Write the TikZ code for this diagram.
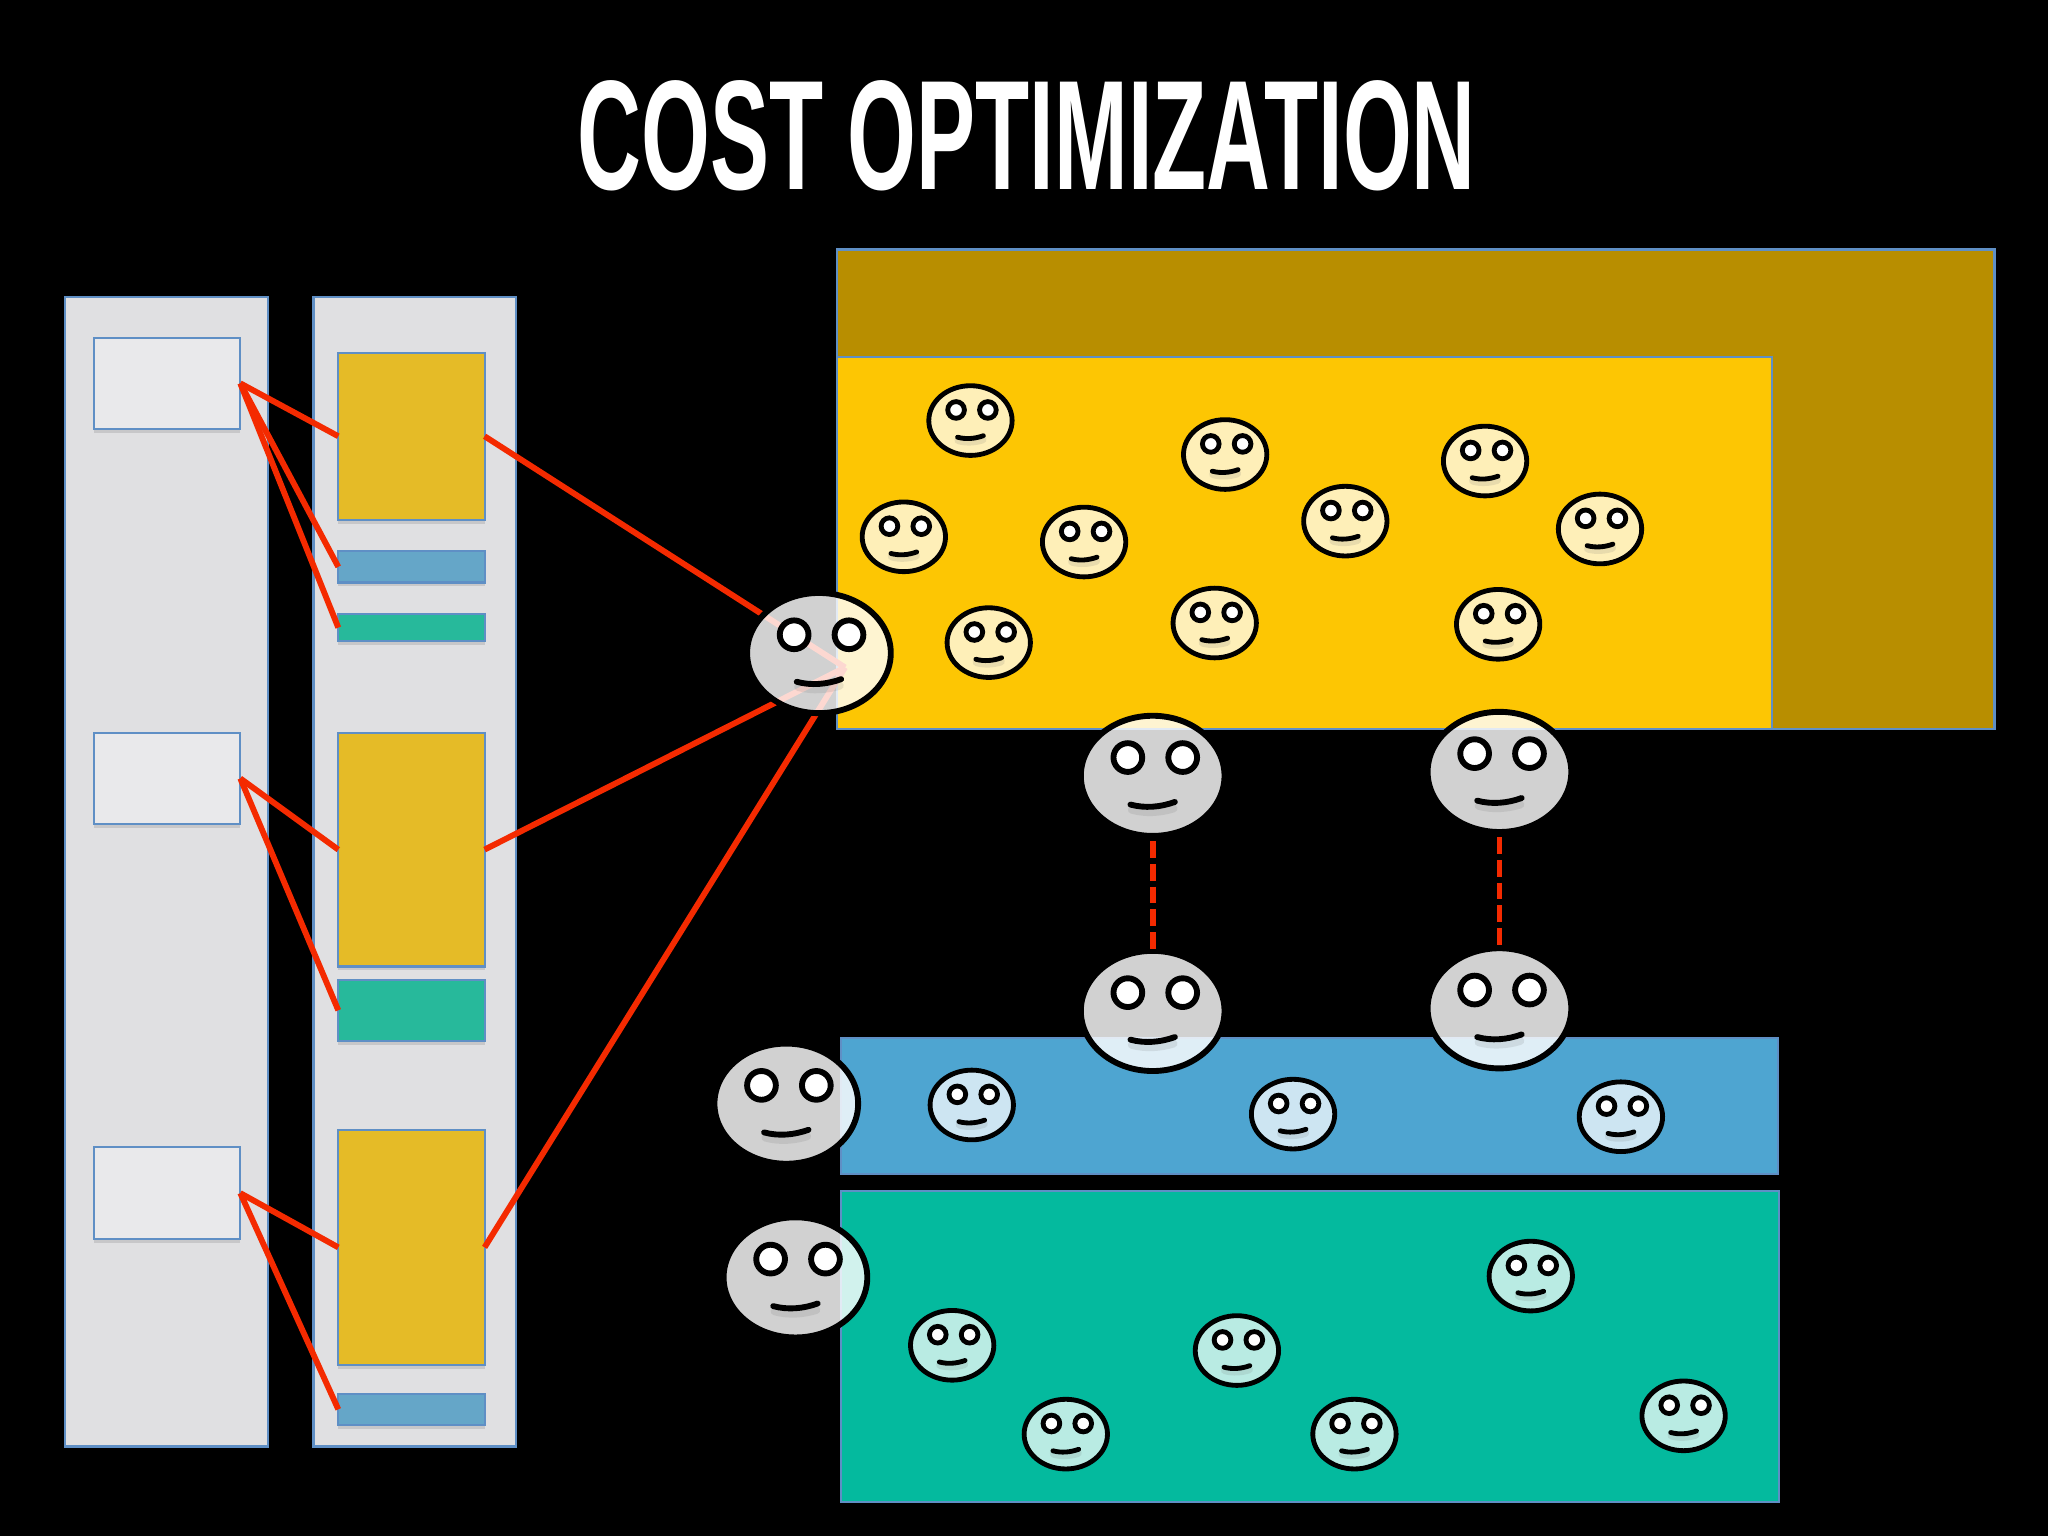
\documentclass[tikz,border=0pt]{standalone}
\usepackage{fontspec}
\usetikzlibrary{positioning,shapes.geometric,shadows}
\setmainfont{Liberation Sans}

\definecolor{edgeblue}{HTML}{5F8FC5}
\definecolor{panelgray}{HTML}{E0E0E2}
\definecolor{paperwhite}{HTML}{E9E9EB}
\definecolor{boxgold}{HTML}{E5BB27}
\definecolor{boxblue}{HTML}{65A6C8}
\definecolor{boxgreen}{HTML}{27B99B}
\definecolor{zonebrown}{HTML}{B88E00}
\definecolor{zonegold}{HTML}{FDC603}
\definecolor{zoneblue}{HTML}{4EA5D1}
\definecolor{zonegreen}{HTML}{04BA9E}
\definecolor{linkred}{HTML}{F42A00}

\tikzset{
	block/.style={draw=edgeblue, line width=.016cm, inner sep=0pt, outer sep=0pt},
	column/.style={block, fill=panelgray, minimum width=1.55cm, minimum height=8.8cm},
	paper/.style={block, fill=paperwhite, minimum width=1.12cm, minimum height=.7cm, drop shadow={opacity=.25, shadow xshift=0pt, shadow yshift=-.03cm}},
	part/.style={block, minimum width=1.12cm, drop shadow={opacity=.25, shadow xshift=0pt, shadow yshift=-.03cm}},
	link/.style={draw=linkred, line width=.045cm},
	pairing/.style={draw=linkred, line width=.045cm, dash pattern=on .128cm off .046cm},
	facebody/.style={fill opacity=.82},
	bigface/.style={line width=.045cm},
	smallface/.style={scale=.58, line width=.037cm, facebody/.style={fill opacity=.72}},
	pics/face/.style={code={
		\node[ellipse, draw=black, fill=white, facebody, draw opacity=1, inner sep=0pt, outer sep=0pt, minimum width=1.1cm, minimum height=.92cm, transform shape] (-body) {};
		\draw[fill=white] (-.19,-.14) circle (.11);
		\draw[fill=white] (.23,-.14) circle (.11);
		\draw[black!60, opacity=.14, line cap=round, line width=.06cm] (-.16,.26) .. controls (-.05,.29) and (.06,.28) .. (.16,.25);
		\draw[line cap=round] (-.17,.22) .. controls (-.06,.25) and (.06,.24) .. (.17,.2);
	}},
}

\begin{document}
\begin{tikzpicture}[y=-1cm]
	\useasboundingbox[fill=black] (0,0) rectangle (15.68,11.76);

	\node[font=\bfseries\fontsize{34}{34}\selectfont, text=white, xscale=.567] (title) at (7.86,1.04) {COST OPTIMIZATION};

	\node[column] (leftcol) at (1.275,6.675) {};
	\node[column, right=.35cm of leftcol] (rightcol) {};

	\node[paper] (paper1) at (1.28,2.935) {};
	\node[paper] (paper2) at (1.28,5.96) {};
	\node[paper] (paper3) at (1.28,9.135) {};

	\node[part, fill=boxgold, minimum height=1.28cm] (gold1) at (3.15,3.34) {};
	\node[part, fill=boxblue, minimum height=.24cm, below=.24cm of gold1] (blue1) {};
	\node[part, fill=boxgreen, minimum height=.21cm, below=.24cm of blue1] (green1) {};
	\node[part, fill=boxgold, minimum height=1.79cm] (gold2) at (3.15,6.505) {};
	\node[part, fill=boxgreen, minimum height=.47cm, below=.10cm of gold2] (green2) {};
	\node[part, fill=boxgold, minimum height=1.8cm] (gold3) at (3.15,9.55) {};
	\node[part, fill=boxblue, minimum height=.24cm, below=.22cm of gold3] (blue3) {};

	\node[block, fill=zonebrown, minimum width=8.86cm, minimum height=3.67cm] (brownzone) at (10.84,3.745) {};
	\node[block, fill=zonegold, minimum width=7.16cm, minimum height=2.85cm, anchor=south west] (goldzone) at (brownzone.south west) {};
	\node[block, fill=zoneblue, minimum width=7.17cm, minimum height=1.04cm] (bluezone) at (10.025,8.47) {};
	\node[block, fill=zonegreen, minimum width=7.18cm, minimum height=2.38cm, below=.13cm of bluezone.south west, anchor=north west] (greenzone) {};

	\coordinate (hub) at (6.47,5.11);

	\draw[link] (paper1.east) -- (gold1.west);
	\draw[link] (paper1.east) -- (blue1.west);
	\draw[link] (paper1.east) -- (green1.west);
	\draw[link] (paper2.east) -- (gold2.west);
	\draw[link] (paper2.east) -- (green2.west);
	\draw[link] (paper3.east) -- (gold3.west);
	\draw[link] (paper3.east) -- (blue3.west);
	\draw[link] (gold1.east) -- (hub);
	\draw[link] (gold2.east) -- (hub);
	\draw[link] (gold3.east) -- (hub);

	\foreach \x/\y [count=\i] in {7.43/3.22, 9.38/3.48, 11.37/3.53, 6.92/4.11, 8.30/4.15, 10.30/3.99, 12.25/4.05, 7.57/4.92, 9.30/4.77, 11.47/4.78}
		\pic[smallface] (goldface\i) at (\x,\y) {face};
	\foreach \x/\y [count=\i] in {7.44/8.46, 9.90/8.53, 12.41/8.55}
		\pic[smallface] (blueface\i) at (\x,\y) {face};
	\foreach \x/\y [count=\i] in {11.72/9.77, 7.29/10.30, 9.47/10.34, 8.16/10.98, 10.37/10.98, 12.89/10.84}
		\pic[smallface] (greenface\i) at (\x,\y) {face};

	\pic[bigface] (broker) at (6.27,5.00) {face};
	\pic[bigface] (lead1) at (8.825,5.94) {face};
	\pic[bigface] (lead2) at (11.48,5.91) {face};
	\pic[bigface] (peer1) at (8.825,7.74) {face};
	\pic[bigface] (peer2) at (11.48,7.72) {face};
	\pic[bigface] (bluehead) at (6.02,8.45) {face};
	\pic[bigface] (greenhead) at (6.09,9.78) {face};

	\draw[pairing, shorten <=.04cm] (lead1-body.south) -- (peer1-body.north);
	\draw[pairing, shorten <=.04cm] (lead2-body.south) -- (peer2-body.north);
\end{tikzpicture}
\end{document}
